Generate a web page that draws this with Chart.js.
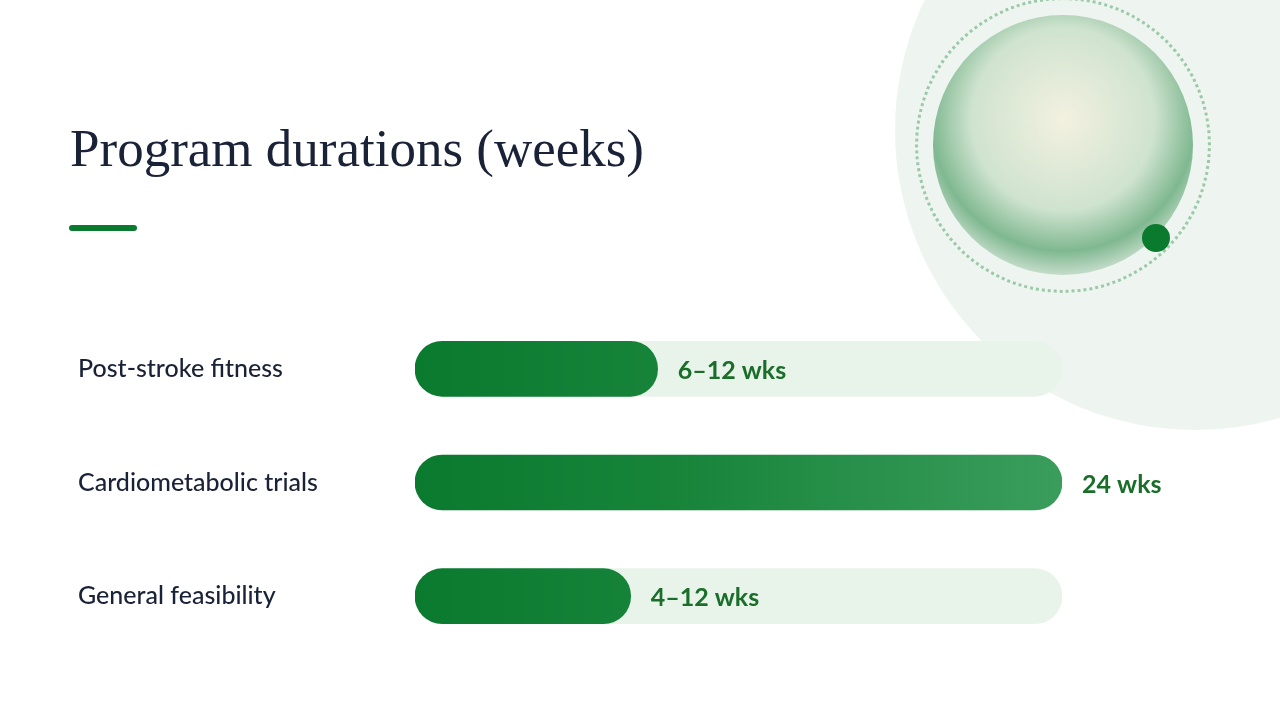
<!DOCTYPE html>
<html><head><meta charset="utf-8">
<script src="https://cdn.jsdelivr.net/npm/chart.js@4"></script>
<style>
body{margin:0;width:1280px;height:720px;overflow:hidden;background:#fff;position:relative;font-family:Lato,sans-serif}
.bg{position:absolute;left:895px;top:-170px;width:600px;height:600px;border-radius:50%;background:#eef5f0}
.ring{position:absolute;left:915px;top:-3px;width:296px;height:296px;border-radius:50%;border:3px dotted #9cc9a8;box-sizing:border-box}
.img{position:absolute;left:933px;top:15px;width:260px;height:260px;border-radius:50%;background:radial-gradient(circle at 50% 40%,#f3f1e0 0%,#cfe3cf 45%,#7fb890 65%,#d8e6da 80%,#e4ece4 100%)}
.dot{position:absolute;left:1142px;top:224px;width:28px;height:28px;border-radius:50%;background:#0a7a2f}
h1{position:absolute;left:70px;top:118px;margin:0;font-family:"Liberation Serif",serif;font-weight:normal;font-size:53px;color:#1a2238}
.bar{position:absolute;left:69px;top:225px;width:68px;height:6px;border-radius:3px;background:#0a7a2f}
canvas{position:absolute;left:0;top:0}
</style></head><body>
<div class="bg"></div><div class="ring"></div><div class="img"></div><div class="dot"></div>
<h1>Program durations (weeks)</h1><div class="bar"></div>
<canvas id="c" width="1280" height="720"></canvas>
<script>
const categories=["Post-stroke fitness","Cardiometabolic trials","General feasibility"];
const values=[9,24,8];
const valueLabels=["6–12 wks","24 wks","4–12 wks"];
const maxWeeks=24;
const track=categories.map(()=>maxWeeks);
const ctx=document.getElementById('c').getContext('2d');
const grad=ctx.createLinearGradient(415,0,1062,0);
grad.addColorStop(0,'#0a7a2f');grad.addColorStop(0.4,'#17843a');grad.addColorStop(1,'#3a9d5c');
const labelPlugin={id:'vl',afterDatasetsDraw(ch){const m=ch.getDatasetMeta(0);const c=ch.ctx;c.save();c.font='bold 25px Lato';c.fillStyle='#1a6e2a';c.textBaseline='middle';
m.data.forEach((b,i)=>{c.fillText(valueLabels[i],b.x+20,b.y+2);});c.restore();}};
new Chart(ctx,{type:'bar',data:{labels:categories,datasets:[
{data:values,backgroundColor:grad,order:1,barThickness:55,borderRadius:28,borderSkipped:false,grouped:false},
{data:track,backgroundColor:'#e8f3ea',order:2,barThickness:55,borderRadius:28,borderSkipped:false,grouped:false}]},
options:{indexAxis:'y',responsive:false,animation:false,events:[],
layout:{padding:{left:78,top:312,bottom:67,right:218}},
plugins:{legend:{display:false},tooltip:{enabled:false}},
scales:{x:{display:false,min:0,max:maxWeeks},
y:{grid:{display:false},border:{display:false},afterFit(s){s.width=337;},
ticks:{crossAlign:'far',padding:0,color:'#1a2238',font:{family:'Lato',size:25,weight:'500'}}}}},
plugins:[labelPlugin]});
</script></body></html>
